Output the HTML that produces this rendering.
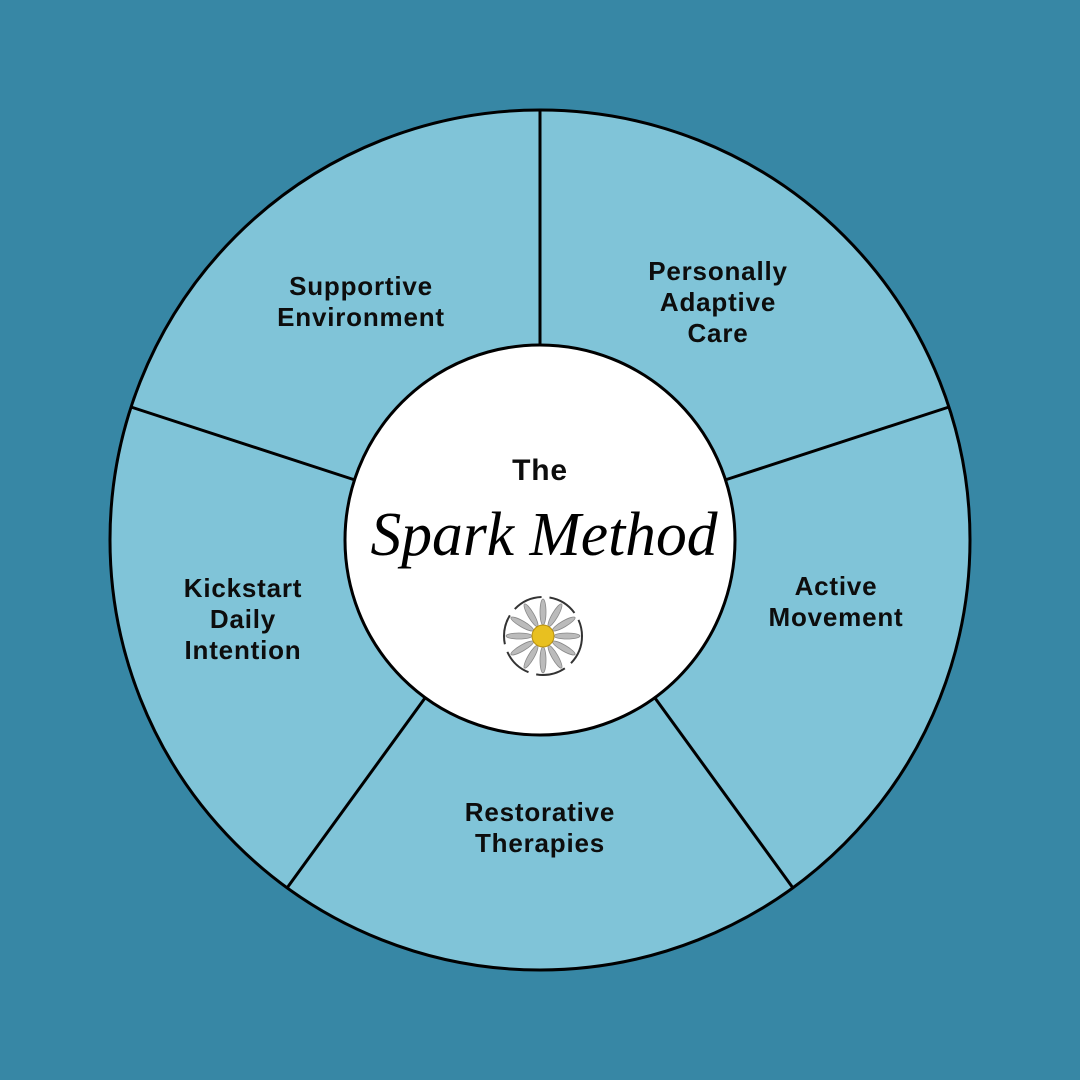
<!DOCTYPE html>
<html><head><meta charset="utf-8"><style>
html,body{margin:0;padding:0;background:#3787a5;}
svg{display:block}
.l{font-family:"Liberation Sans",sans-serif;font-size:26px;font-weight:600;fill:#0d0d0d;text-anchor:middle;letter-spacing:0.8px}
</style></head><body>
<svg width="1080" height="1080" viewBox="0 0 1080 1080" xmlns="http://www.w3.org/2000/svg">
<rect width="1080" height="1080" fill="#3787a5"/>
<circle cx="540" cy="540" r="430" fill="#80c4d8" stroke="#000" stroke-width="3"/>
<g stroke="#000" stroke-width="3">
<line x1="540" y1="110" x2="540" y2="345"/>
<line x1="949" y1="407" x2="725" y2="480"/>
<line x1="793" y1="888" x2="655" y2="698"/>
<line x1="287" y1="888" x2="425" y2="698"/>
<line x1="131" y1="407" x2="355" y2="480"/>
</g>
<circle cx="540" cy="540" r="195" fill="#fff" stroke="#000" stroke-width="3"/>
<text class="l" x="540" y="480" style="font-size:30px">The</text>
<text x="544" y="555" font-family="Liberation Serif,serif" font-style="italic" font-size="62" text-anchor="middle" textLength="347" lengthAdjust="spacingAndGlyphs" fill="#000">Spark Method</text>
<g transform="translate(543,636)">
<g fill="#bbb" stroke="#888" stroke-width="0.8">
<ellipse cx="0" cy="-24" rx="3" ry="13"/>
<ellipse cx="0" cy="-24" rx="3" ry="13" transform="rotate(30)"/>
<ellipse cx="0" cy="-24" rx="3" ry="13" transform="rotate(60)"/>
<ellipse cx="0" cy="-24" rx="3" ry="13" transform="rotate(90)"/>
<ellipse cx="0" cy="-24" rx="3" ry="13" transform="rotate(120)"/>
<ellipse cx="0" cy="-24" rx="3" ry="13" transform="rotate(150)"/>
<ellipse cx="0" cy="-24" rx="3" ry="13" transform="rotate(180)"/>
<ellipse cx="0" cy="-24" rx="3" ry="13" transform="rotate(210)"/>
<ellipse cx="0" cy="-24" rx="3" ry="13" transform="rotate(240)"/>
<ellipse cx="0" cy="-24" rx="3" ry="13" transform="rotate(270)"/>
<ellipse cx="0" cy="-24" rx="3" ry="13" transform="rotate(300)"/>
<ellipse cx="0" cy="-24" rx="3" ry="13" transform="rotate(330)"/>
</g>
<circle r="11" fill="#e8c020" stroke="#b89010" stroke-width="1"/>
<circle r="39" fill="none" stroke="#333" stroke-width="2" stroke-dasharray="30 8"/>
</g>
<text class="l" x="361" y="295">Supportive</text>
<text class="l" x="361" y="326">Environment</text>
<text class="l" x="718" y="280">Personally</text>
<text class="l" x="718" y="311">Adaptive</text>
<text class="l" x="718" y="342">Care</text>
<text class="l" x="836" y="595">Active</text>
<text class="l" x="836" y="626">Movement</text>
<text class="l" x="540" y="821">Restorative</text>
<text class="l" x="540" y="852">Therapies</text>
<text class="l" x="243" y="597">Kickstart</text>
<text class="l" x="243" y="628">Daily</text>
<text class="l" x="243" y="659">Intention</text>
</svg>
</body></html>
